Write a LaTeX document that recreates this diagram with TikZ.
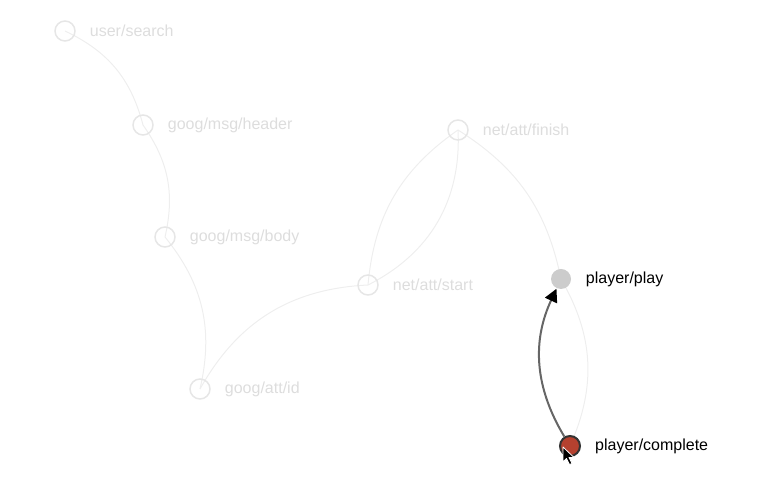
\documentclass[tikz,border=0pt]{standalone}
\usepackage{fontspec}
\setmainfont{Liberation Sans}
\usepackage{xcolor}
\usepackage{tikz}
\usetikzlibrary{positioning}
\usetikzlibrary{arrows.meta}
\definecolor{faintline}{HTML}{EEEEEE}
\definecolor{faintring}{HTML}{E6E6E6}
\definecolor{fainttext}{HTML}{DDDDDD}
\definecolor{playgray}{HTML}{CCCCCC}
\definecolor{donered}{HTML}{B5412F}
\definecolor{arrowgray}{HTML}{666666}
\pgfdeclarelayer{back}
\pgfsetlayers{back,main}
\tikzset{main node/.style={circle,draw=faintring,line width=1.5bp,minimum size=20bp,inner sep=0pt},
         tag/.style={text=fainttext,inner sep=0pt,font=\fontsize{16bp}{19bp}\selectfont},}

\begin{document}
\begin{tikzpicture}[x=1bp, y=1bp, node distance=14bp]
	    \useasboundingbox (0,0) rectangle (763,487);
		\node[main node] (search) at (65,456) {};
	    \node[main node] (header) at (143,362) {};
	    \node[main node] (body) at (165,250) {};
	    \node[main node] (attid) at (200,98) {};
	    \node[main node] (start) at (368,202) {};
	    \node[main node] (finish) at (458,357) {};
	    \node[main node, draw=none, fill=playgray] (play) at (561,208) {};
	    \node[main node, draw=black!80, line width=2bp, fill=donered] (complete) at (570,41) {};

	    \node[tag] (search-l) [right = of search] {user/search};
	    \node[tag] (header-l) [right = of header] {goog/msg/header};
	    \node[tag] (body-l) [right = of body] {goog/msg/body};
	    \node[tag] (attid-l) [right = of attid] {goog/att/id};
	    \node[tag] (start-l) [right = of start] {net/att/start};
	    \node[tag] (finish-l) [right = of finish] {net/att/finish};
	    \node[tag, text=black] (play-l) [right = of play] {player/play};
	    \node[tag, text=black] (complete-l) [right = of complete] {player/complete};

	    \begin{pgfonlayer}{back}
	    \path[draw=faintline, line width=1bp]
	    (search.center) edge [bend left=25] (header.center)
	    (header.center) edge [bend left=24] (body.center)
	    (body.center) edge [bend left=26] (attid.center)
	    (attid.center) edge [bend left=29] (start.center)
	    (start.center) edge [bend left=25] (finish.center)
	    (start.center) edge [bend right=33] (finish.center)
	    (finish.center) edge [bend left=23] (play.center)
	    (play.center) edge [bend left=27] (complete.center);
	    \end{pgfonlayer}

	    \path[draw=arrowgray, line width=2bp, -{Triangle[length=13bp,width=13bp,color=black]}]
	    (complete) edge [bend left=28] (play);

	    % pointer
	    \draw[fill=black, draw=white, line width=0.8bp, line join=round]
	    (563,40) -- ++(0,-15) -- ++(3.5,3.5) -- ++(3,-6) -- ++(2.5,1) -- ++(-3,6) -- ++(5,0) -- cycle;
\end{tikzpicture}
\end{document}
